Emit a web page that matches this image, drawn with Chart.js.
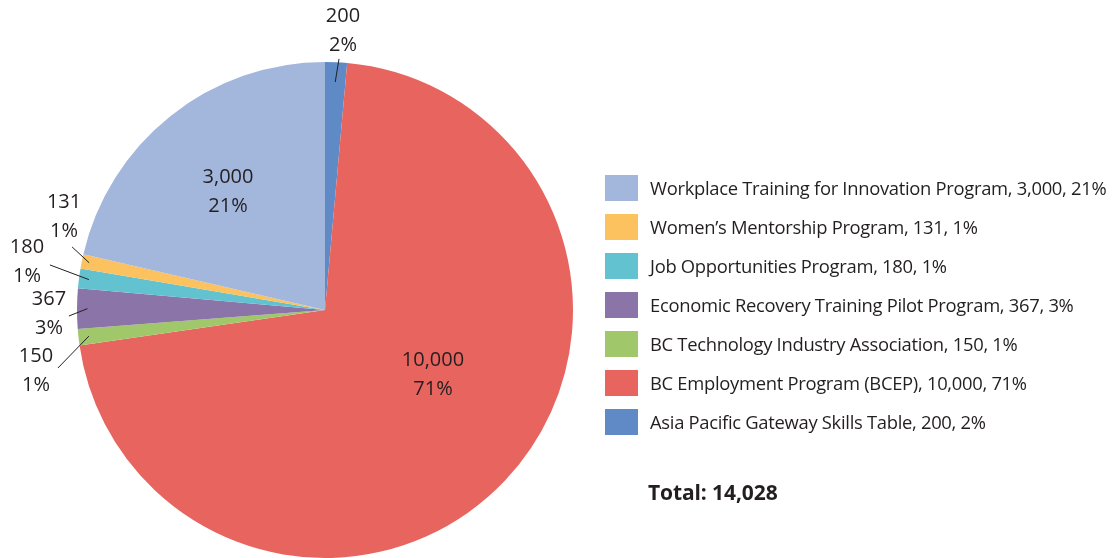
<!DOCTYPE html>
<html>
<head>
<meta charset="utf-8">
<script src="https://cdn.jsdelivr.net/npm/chart.js@4"></script>
<style>
  html, body { margin:0; padding:0; background:#fff; }
  body { width:1112px; height:558px; position:relative; overflow:hidden; font-family:"Open Sans", "Noto Sans", sans-serif; color:#231f20; }
  #wrap { position:absolute; left:0; top:0; width:650px; height:558px; }
  .sw { position:absolute; left:605px; width:33px; height:26px; }
  .lt { position:absolute; left:650px; font-size:18.4px; line-height:26px; white-space:nowrap; letter-spacing:-0.3px; }
  #total { position:absolute; left:648px; top:479px; font-size:21px; font-weight:700; line-height:26px; white-space:nowrap; letter-spacing:-0.1px; }
</style>
</head>
<body>
<div id="wrap"><canvas id="c"></canvas></div>
<div id="legend"></div>
<div id="total"></div>
<script>
// ---- data (clockwise from 12 o'clock) ----
const categories = [
  "Asia Pacific Gateway Skills Table",
  "BC Employment Program (BCEP)",
  "BC Technology Industry Association",
  "Economic Recovery Training Pilot Program",
  "Job Opportunities Program",
  "Women\u2019s Mentorship Program",
  "Workplace Training for Innovation Program"
];
const values = [200, 10000, 150, 367, 180, 131, 3000];
const percents = ["2%", "71%", "1%", "3%", "1%", "1%", "21%"];
const totalLabel = "Total: 14,028";

// ---- styles ----
const colors = ["#5f8ac6", "#e8645e", "#a0c86b", "#8b74a8", "#63c2cf", "#fbc25f", "#a3b6dc"];
// label placement (polar, degrees clockwise from top, radius as fraction of pie radius)
const labelLayout = [
  { ta: 3.69,  tr: 1.127, line: [2.57, 0.92, 3.19, 1.014] },
  { ta: 121.0, tr: 0.508 },
  { ta: 258.1, tr: 1.191, line: [263.68, 0.958, 257.75, 1.102] },
  { ta: 269.2, tr: 1.113, line: [270.32, 0.958, 268.66, 1.033] },
  { ta: 279.15,tr: 1.217, line: [277.34, 0.96, 279.3, 1.124] },
  { ta: 289.6, tr: 1.117, line: [281.33, 0.97, 284.0, 1.051] },
  { ta: 320.6, tr: 0.616 }
];
const fmt = v => v.toLocaleString("en-US");

// ---- legend (reverse order) ----
const legend = document.getElementById("legend");
const rowTop = 188, rowGap = 39;
for (let k = 0; k < categories.length; k++) {
  const i = categories.length - 1 - k;
  const cy = rowTop + k * rowGap;
  const sw = document.createElement("div");
  sw.className = "sw"; sw.style.top = (cy - 13) + "px"; sw.style.background = colors[i];
  const t = document.createElement("div");
  t.className = "lt"; t.style.top = (cy - 13) + "px";
  t.textContent = categories[i] + ", " + fmt(values[i]) + ", " + percents[i];
  legend.appendChild(sw); legend.appendChild(t);
}
document.getElementById("total").textContent = totalLabel;

// ---- label plugin ----
const pieLabels = {
  id: "pieLabels",
  afterDatasetsDraw(chart) {
    const ctx = chart.ctx;
    const arc0 = chart.getDatasetMeta(0).data[0];
    const cx = arc0.x, cy = arc0.y, R = arc0.outerRadius;
    const pt = (deg, f) => {
      const a = deg * Math.PI / 180;
      return [cx + Math.sin(a) * R * f, cy - Math.cos(a) * R * f];
    };
    ctx.save();
    ctx.fillStyle = "#231f20";
    ctx.strokeStyle = "#231f20";
    ctx.lineWidth = 1;
    ctx.font = '20px "Open Sans", "Noto Sans", sans-serif';
    ctx.textAlign = "center";
    ctx.textBaseline = "middle";
    values.forEach((v, i) => {
      const L = labelLayout[i];
      const [tx, ty] = pt(L.ta, L.tr);
      ctx.fillText(fmt(v), tx, ty - 14.5);
      ctx.fillText(percents[i], tx, ty + 14.5);
      if (L.line) {
        const [x1, y1] = pt(L.line[0], L.line[1]);
        const [x2, y2] = pt(L.line[2], L.line[3]);
        ctx.beginPath(); ctx.moveTo(x1, y1); ctx.lineTo(x2, y2); ctx.stroke();
      }
    });
    ctx.restore();
  }
};

new Chart(document.getElementById("c"), {
  type: "pie",
  data: {
    labels: categories,
    datasets: [{ data: values, backgroundColor: colors, borderWidth: 0 }]
  },
  options: {
    responsive: true,
    maintainAspectRatio: false,
    animation: false,
    layout: { padding: { left: 77, right: 77, top: 62, bottom: 0 } },
    plugins: { legend: { display: false }, tooltip: { enabled: false } }
  },
  plugins: [pieLabels]
});
</script>
</body>
</html>
